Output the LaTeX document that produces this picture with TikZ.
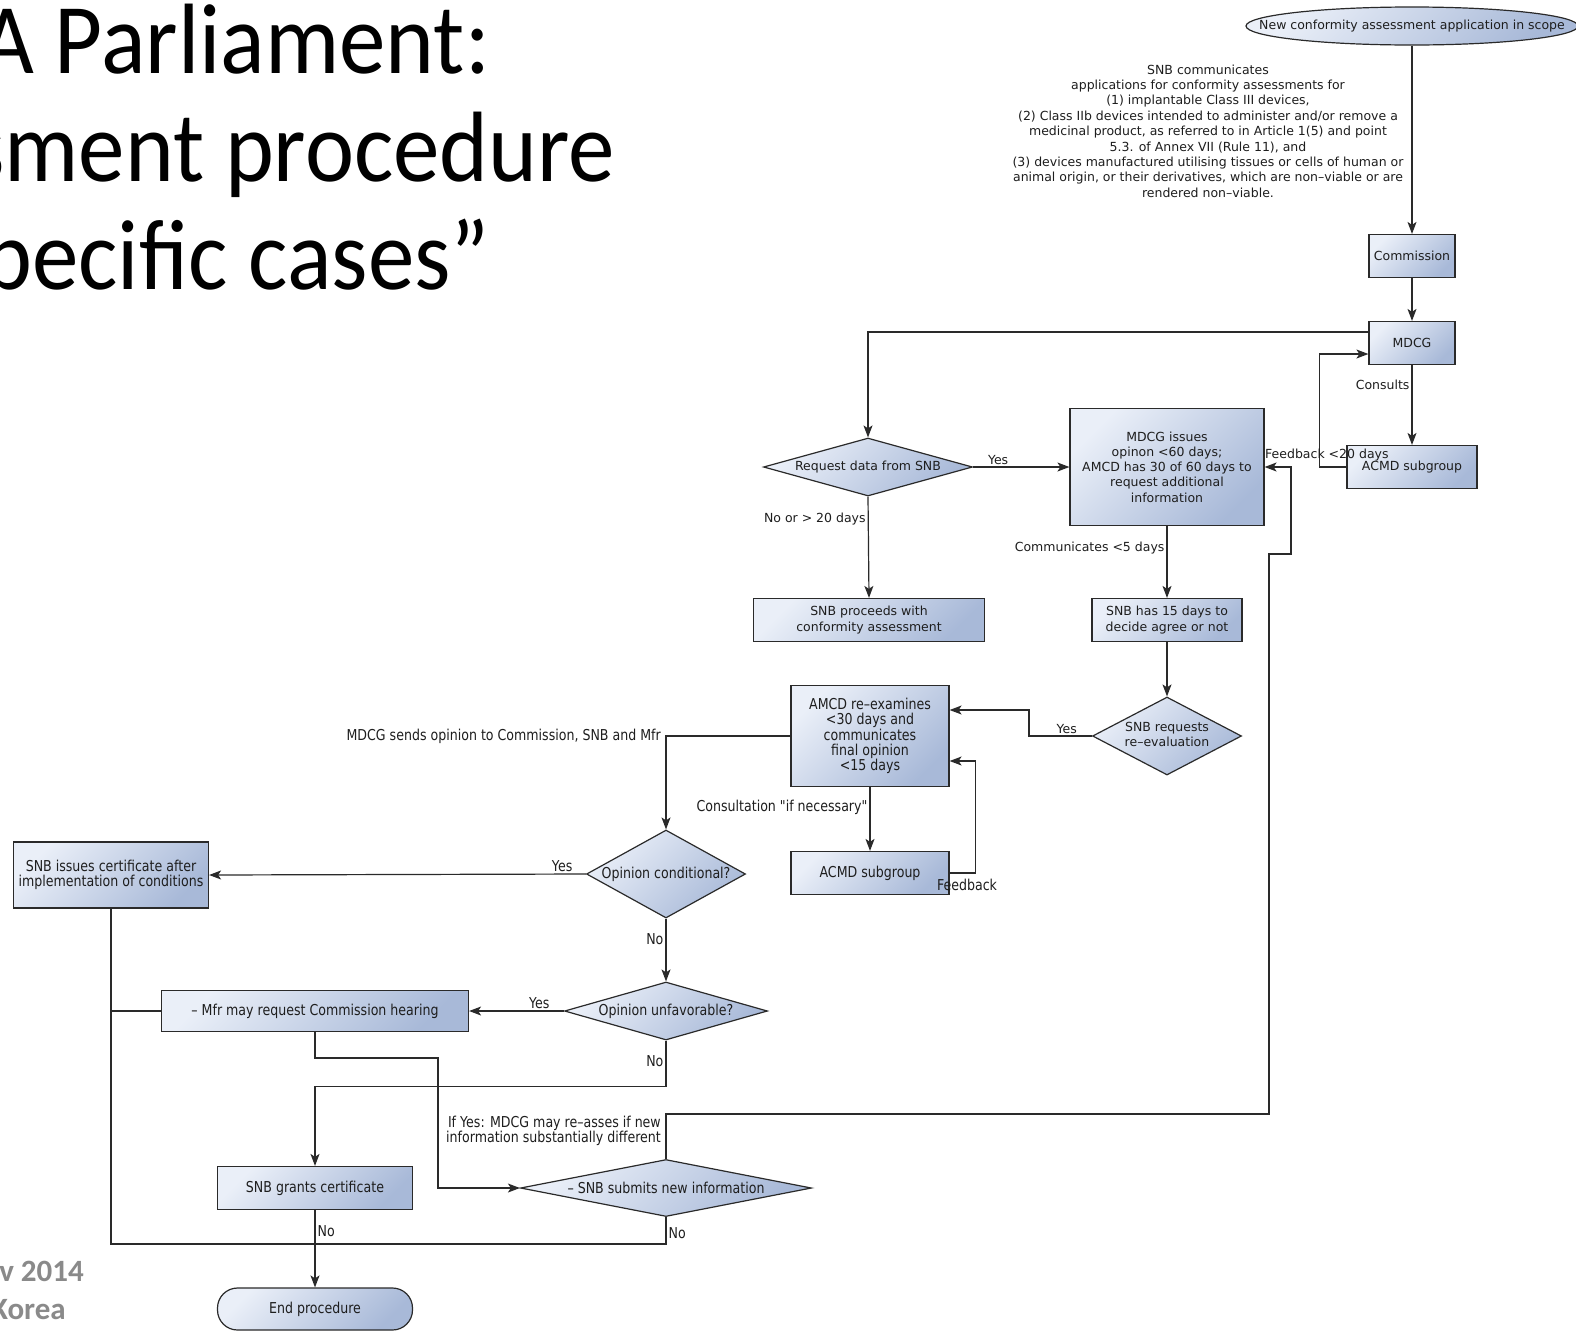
\documentclass[tikz,border=0pt]{standalone}
\usepackage{fontspec}
\setmainfont{DejaVu Sans}
\newfontfamily\narrowsans{DejaVu Sans}[FakeStretch=0.84]
\newfontfamily\slidefont{Carlito}
\usetikzlibrary{arrows.meta,shapes.geometric}

\definecolor{boxlight}{HTML}{EAEFF8}
\definecolor{boxdark}{HTML}{A8B9D8}
\definecolor{edgeline}{HTML}{2A2A2A}
\definecolor{ink}{HTML}{1E1E1E}
\definecolor{footgray}{HTML}{8A8A8A}

\tikzset{
  base font/.style={font=\fontsize{12.5}{15.3}\selectfont},
  narrow font/.style={font=\narrowsans\fontsize{15}{15.3}\selectfont},
  shaded fill/.style={top color=boxlight, bottom color=boxdark, shading angle=45},
  procbox/.style={rectangle, draw=edgeline, line width=1.2pt, shaded fill,
    inner sep=0pt, align=center, text=ink, base font},
  decision/.style={diamond, draw=edgeline, line width=1.2pt, shaded fill,
    inner sep=0pt, text=ink, base font},
  startell/.style={ellipse, draw=edgeline, line width=1.2pt, shaded fill,
    inner sep=0pt, text=ink, base font},
  terminal/.style={rectangle, rounded corners=20pt, draw=edgeline, line width=1.2pt,
    shaded fill, inner sep=0pt, text=ink, narrow font},
  lbl/.style={text=ink, inner sep=2pt, base font},
  flow/.style={draw=edgeline, line width=1.2pt,
    -{Stealth[length=12pt,width=9pt,inset=3pt]}},
  link/.style={draw=edgeline, line width=1.2pt},
  slidetitle/.style={font=\slidefont\fontsize{100}{100}\selectfont, text=black, inner sep=0pt},
  slidefoot/.style={font=\slidefont\bfseries\fontsize{31}{31}\selectfont, text=footgray, inner sep=0pt},
}

\begin{document}
\begin{tikzpicture}[x=1pt,y=-1pt]
\useasboundingbox (0,0) rectangle (1576,1331);
\fill[white] (0,0) rectangle (1576,1331);

% slide title and footer
\node[slidetitle, anchor=base east] (title1) at (490,73) {\scalebox{0.93}[1]{A Parliament:}};
\node[slidetitle, anchor=base east] (title2) at (615,181) {\scalebox{0.93}[1]{sment procedure}};
\node[slidetitle, anchor=base east] (title3) at (490,289) {\scalebox{0.93}[1]{pecific cases”}};
\node[slidefoot, anchor=base east] (foot1) at (84,1281) {v 2014};
\node[slidefoot, anchor=base east] (foot2) at (66,1319) {Korea};

% upper part of the procedure
\node[startell, minimum width=332pt, minimum height=38pt] (start) at (1412,26)
  {\makebox[0pt]{New conformity assessment application in scope}};
\node[lbl, align=center, font=\fontsize{12.5}{15.4}\selectfont] (scope) at (1208,131)
  {SNB communicates\\
   applications for conformity assessments for\\
   (1) implantable Class III devices,\\
   (2) Class IIb devices intended to administer and/or remove a\\
   medicinal product, as referred to in Article 1(5) and point\\
   5.3. of Annex VII (Rule 11), and\\
   (3) devices manufactured utilising tissues or cells of human or\\
   animal origin, or their derivatives, which are non–viable or are\\
   rendered non–viable.};
\node[procbox, minimum width=86pt, minimum height=43pt] (comm) at (1412,256) {Commission};
\node[procbox, minimum width=86pt, minimum height=43pt] (mdcg) at (1412,343) {MDCG};
\node[procbox, minimum width=130pt, minimum height=43pt] (acmdA) at (1412,467) {ACMD subgroup};
\node[procbox, minimum width=194pt, minimum height=117pt] (issue) at (1167,467)
  {MDCG issues\\opinon <60 days;\\AMCD has 30 of 60 days to\\request additional\\information};
\node[decision, minimum width=209pt, minimum height=58pt] (req) at (868,467)
  {\makebox[0pt]{Request data from SNB}};
\node[procbox, minimum width=231pt, minimum height=43pt] (proceed) at (869,620)
  {SNB proceeds with\\conformity assessment};
\node[procbox, minimum width=150pt, minimum height=43pt] (decide) at (1167,620)
  {SNB has 15 days to\\decide agree or not};
\node[decision, minimum width=149pt, minimum height=78pt] (reeval) at (1167,736)
  {\makebox[0pt]{\begin{tabular}{@{}c@{}}SNB requests\\re–evaluation\end{tabular}}};

% lower part of the procedure
\node[procbox, narrow font, minimum width=158pt, minimum height=101pt] (reexam) at (870,736)
  {AMCD re–examines\\<30 days and\\communicates\\final opinion\\<15 days};
\node[procbox, narrow font, minimum width=158pt, minimum height=43pt] (acmdB) at (870,873)
  {ACMD subgroup};
\node[decision, narrow font, minimum width=159pt, minimum height=88pt] (condq) at (666,874)
  {\makebox[0pt]{Opinion conditional?}};
\node[procbox, narrow font, minimum width=195pt, minimum height=66pt] (condcert) at (111,875)
  {SNB issues certificate after\\implementation of conditions};
\node[decision, narrow font, minimum width=203pt, minimum height=58pt] (unfav) at (666,1011)
  {\makebox[0pt]{Opinion unfavorable?}};
\node[procbox, narrow font, minimum width=307pt, minimum height=41pt] (hearing) at (315,1011)
  {– Mfr may request Commission hearing};
\node[procbox, narrow font, minimum width=195pt, minimum height=43pt] (grant) at (315,1188)
  {SNB grants certificate};
\node[decision, narrow font, minimum width=291pt, minimum height=57pt] (newinfo) at (666,1188)
  {\makebox[0pt]{– SNB submits new information}};
\node[terminal, minimum width=195pt, minimum height=42pt] (finish) at (315,1309)
  {End procedure};

% bend points of the long return line
\coordinate (retA) at (1269,1114);
\coordinate (retB) at (1291,554);
\coordinate (hearA) at (438,1058);
\coordinate (baseL) at (111,1244);

% connectors, upper part
\draw[flow] (start) -- (comm);
\draw[flow] (comm) -- (mdcg);
\draw[flow] (mdcg) -- node[lbl, left, pos=0.25] {Consults} (acmdA);
\draw[flow] ([yshift=11pt]mdcg.west) -| (req.north);
\draw[flow] (acmdA.west) -- ++(-27,0) |- ([yshift=-11pt]mdcg.west);
\node[lbl, anchor=west] (fbA) at (1263,455) {Feedback <20 days};
\draw[flow] (req.east) -- node[lbl, above, pos=0.26] {Yes} (issue.west);
\draw[flow] (req.south) -- node[lbl, left, pos=0.22] {No or > 20 days} (proceed.north);
\draw[flow] (issue.south) -- node[lbl, left, pos=0.3] {Communicates <5 days} (decide.north);
\draw[flow] (decide.south) -- (reeval.north);
\draw[flow] (reeval.west) -- node[lbl, above, pos=0.4] {Yes} ++(-63,0) |- ([yshift=26pt]reexam.east);
\draw[flow] (newinfo.north) |- (retA) |- (retB) |- (issue.east);

% connectors, lower part
\draw[flow] (reexam.south) -- node[lbl, narrow font, left, pos=0.32] {Consultation "if necessary"} (acmdB.north);
\draw[flow] (acmdB.east) -- ++(26,0) |- ([yshift=-25pt]reexam.east);
\node[lbl, narrow font] (fbB) at (967,885) {Feedback};
\draw[flow] (reexam.west) -| (condq.north);
\node[lbl, narrow font, anchor=east] (sends) at (663,736) {MDCG sends opinion to Commission, SNB and Mfr};
\draw[flow] (condq.west) -- node[lbl, narrow font, above, pos=0.063] {Yes} (condcert.east);
\draw[flow] (condq.south) -- node[lbl, narrow font, left, pos=0.33] {No} (unfav.north);
\draw[flow] (unfav.west) -- node[lbl, narrow font, above, pos=0.26] {Yes} (hearing.east);
\draw[flow] (unfav.south) -- node[lbl, narrow font, left, pos=0.45] {No} ++(0,46) -| (grant.north);
\draw[flow] (hearing.south) |- (hearA) |- (newinfo.west);
\node[lbl, narrow font, anchor=east, align=right] (reassess) at (663,1131)
  {If Yes: MDCG may re–asses if new\\information substantially different};
\draw[link] (newinfo.south) |- node[lbl, narrow font, anchor=west, pos=0.3] {No} (baseL) -- (condcert.south);
\draw[link] (hearing.west) -- (hearing.west -| condcert.south);
\draw[flow] (grant.south) -- node[lbl, narrow font, right, pos=0.27] {No} (finish.north);
\end{tikzpicture}
\end{document}
